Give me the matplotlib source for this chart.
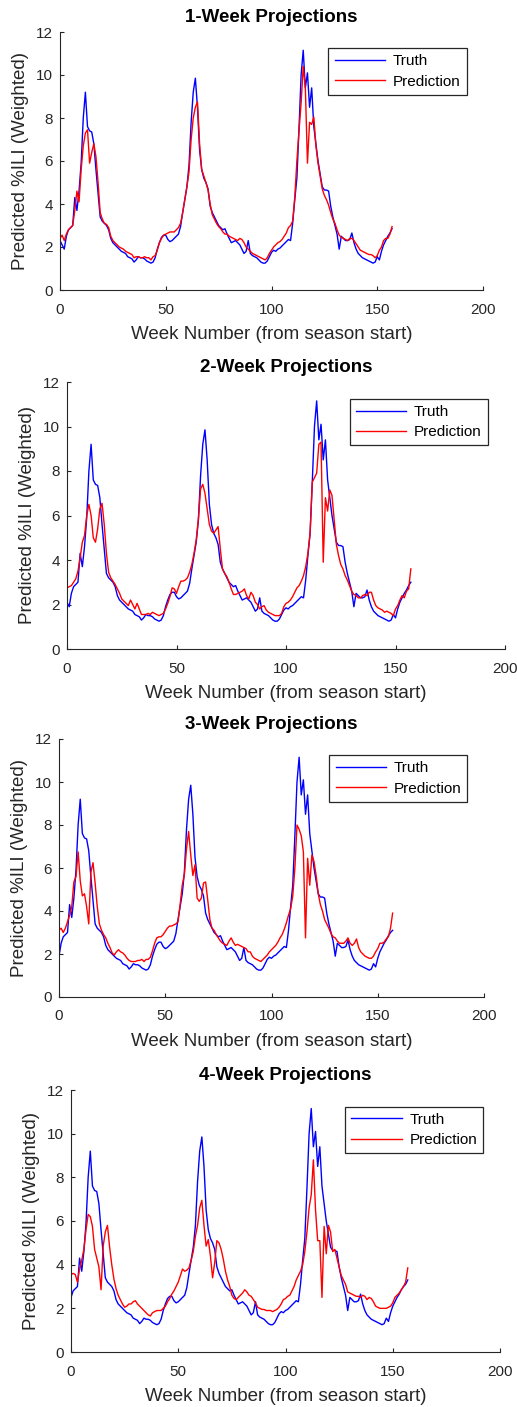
import matplotlib
matplotlib.use("Agg")
import matplotlib.pyplot as plt
import numpy as np

plt.rcParams["font.family"] = ["Liberation Sans", "DejaVu Sans"]

# observed weighted %ILI, aligned so that panel k shows truth_base[k-1 : k-1+158]
truth_base = [
    2.3, 2.1, 1.9, 2.5, 2.8, 2.9, 3.0, 4.3, 3.7, 4.6,
    5.9, 8.0, 9.2, 7.6, 7.4, 7.35, 6.8, 5.6, 4.5, 3.4,
    3.2, 3.1, 3.0, 2.8, 2.4, 2.2, 2.1, 2.0, 1.9, 1.8,
    1.75, 1.7, 1.55, 1.5, 1.45, 1.3, 1.4, 1.55, 1.5, 1.5,
    1.45, 1.35, 1.3, 1.25, 1.3, 1.5, 1.9, 2.2, 2.45, 2.55,
    2.55, 2.35, 2.25, 2.3, 2.4, 2.5, 2.6, 2.95, 3.6, 4.2,
    4.8, 5.8, 7.8, 9.2, 9.85, 8.5, 6.5, 5.6, 5.2, 5.0,
    4.7, 3.9, 3.6, 3.4, 3.2, 3.0, 2.9, 2.8, 2.85, 2.6,
    2.4, 2.2, 2.25, 2.3, 2.2, 2.1, 1.9, 1.7, 1.8, 2.3,
    1.7, 1.6, 1.55, 1.5, 1.4, 1.3, 1.25, 1.25, 1.35, 1.55,
    1.75, 1.85, 1.8, 1.9, 1.95, 2.05, 2.15, 2.25, 2.35, 2.3,
    3.1, 4.2, 5.2, 7.5, 10.0, 11.15, 9.4, 10.1, 8.5, 9.4,
    7.6, 6.8, 6.0, 5.4, 4.8, 4.65, 4.65, 4.6, 3.9, 3.4,
    3.0, 2.6, 1.9, 2.5, 2.4, 2.3, 2.3, 2.35, 2.65, 2.2,
    1.9, 1.7, 1.6, 1.5, 1.45, 1.4, 1.35, 1.3, 1.25, 1.3,
    1.55, 1.4, 1.8, 2.1, 2.3, 2.5, 2.65, 2.85, 3.0, 3.1,
    3.3,
]

pred_1wk = [
    2.4, 2.55, 2.3, 2.6, 2.8, 2.9, 3.0, 3.7, 4.6, 4.1,
    5.6, 6.7, 7.3, 7.45, 5.9, 6.4, 6.8, 6.2, 5.0, 3.6,
    3.3, 3.1, 3.05, 2.9, 2.5, 2.3, 2.2, 2.1, 2.0, 1.95,
    1.9, 1.8, 1.75, 1.7, 1.65, 1.5, 1.55, 1.55, 1.5, 1.5,
    1.55, 1.5, 1.5, 1.4, 1.55, 1.6, 1.85, 2.2, 2.4, 2.55,
    2.6, 2.65, 2.7, 2.7, 2.7, 2.8, 2.9, 3.1, 3.6, 4.2,
    4.8, 5.5, 7.0, 8.0, 8.5, 8.75, 6.8, 5.6, 5.3, 5.0,
    4.65, 4.0, 3.5, 3.3, 3.1, 2.95, 2.85, 2.7, 2.6, 2.6,
    2.5, 2.45, 2.4, 2.35, 2.3, 2.4, 2.35, 2.2, 2.0, 1.9,
    1.8, 1.7, 1.65, 1.6, 1.55, 1.5, 1.45, 1.4, 1.5, 1.7,
    1.85, 2.0, 2.1, 2.2, 2.25, 2.35, 2.5, 2.65, 2.9, 3.0,
    3.2, 4.3, 6.0, 7.4, 8.7, 10.4, 9.4, 5.9, 7.8, 7.7,
    8.05, 6.7, 5.9, 5.3, 4.7, 4.4, 4.2, 3.95, 3.6, 3.3,
    3.1, 2.8, 2.55, 2.45, 2.4, 2.35, 2.3, 2.4, 2.4, 2.3,
    2.15, 2.0, 1.85, 1.8, 1.75, 1.7, 1.65, 1.65, 1.6, 1.5,
    1.6, 1.85, 2.0, 2.3, 2.4, 2.4, 2.6, 2.95,
]

pred_2wk = [
    2.75, 2.8, 2.85, 3.0, 3.15, 3.5, 4.1, 4.8, 5.1, 6.0,
    6.5, 6.0, 5.0, 4.8, 5.4, 6.3, 6.55, 5.6, 4.3, 3.45,
    3.2, 3.05, 2.9, 2.7, 2.5, 2.25, 2.15, 2.05, 1.95, 2.2,
    2.0, 1.8, 2.05, 1.8, 1.55, 1.55, 1.55, 1.6, 1.55, 1.65,
    1.6, 1.55, 1.5, 1.55, 1.6, 1.8, 2.05, 2.35, 2.75, 2.7,
    2.5, 2.8, 3.05, 3.05, 3.1, 3.2, 3.45, 3.8, 4.3, 4.9,
    5.85, 7.2, 7.4, 7.0, 6.3, 5.6, 5.3, 5.2, 5.35, 5.5,
    4.5, 3.6, 3.4, 3.25, 3.0, 2.7, 2.45, 2.45, 2.5, 2.55,
    2.6, 2.7, 2.4, 2.25, 2.55, 2.4, 2.1, 2.0, 1.8, 1.9,
    1.95, 1.75, 1.65, 1.6, 1.55, 1.5, 1.5, 1.5, 1.6, 1.9,
    2.05, 2.1, 2.2, 2.35, 2.55, 2.75, 2.85, 3.05, 3.3, 3.7,
    4.3, 5.2, 7.5, 7.7, 7.9, 9.2, 9.3, 3.9, 6.8, 6.2,
    7.15, 6.9, 5.8, 4.7, 4.2, 3.8, 3.6, 3.3, 3.1, 2.85,
    2.6, 2.45, 2.4, 2.3, 2.3, 2.4, 2.45, 2.4, 2.55, 2.55,
    2.2, 1.95, 1.85, 1.8, 1.75, 1.65, 1.7, 1.65, 1.6, 1.5,
    1.8, 1.95, 2.2, 2.4, 2.3, 2.6, 2.7, 3.6,
]

pred_3wk = [
    3.1, 3.2, 3.0, 3.2, 3.5, 3.8, 4.2, 5.35, 5.6, 6.75,
    5.4, 4.7, 4.8, 4.2, 3.4, 5.8, 6.25, 5.3, 4.2, 3.4,
    3.1, 2.9, 2.75, 2.5, 2.3, 2.05, 1.95, 2.1, 2.2, 2.1,
    2.05, 1.95, 1.8, 1.7, 1.65, 1.65, 1.65, 1.7, 1.7, 1.75,
    1.65, 1.75, 1.75, 1.85, 2.15, 2.5, 2.75, 2.8, 2.8, 2.9,
    3.05, 3.2, 3.3, 3.3, 3.35, 3.4, 3.5, 4.3, 5.2, 5.7,
    6.9, 7.7, 6.6, 5.65, 6.15, 4.6, 4.45, 4.6, 5.3, 5.35,
    4.5, 3.6, 3.2, 3.1, 2.9, 2.75, 2.6, 2.5, 2.45, 2.4,
    2.6, 2.75, 2.55, 2.4, 2.45, 2.4, 2.35, 2.3, 2.25, 2.1,
    2.1, 1.9, 1.8, 1.75, 1.7, 1.65, 1.75, 1.85, 1.95, 2.1,
    2.2, 2.3, 2.4, 2.55, 2.75, 2.9, 3.15, 3.45, 3.8, 4.1,
    4.7, 6.0, 8.0, 7.8, 7.5, 6.75, 2.75, 6.45, 5.2, 6.6,
    6.3, 5.65, 4.8, 4.3, 4.0, 3.6, 3.4, 3.2, 2.95, 2.8,
    2.75, 2.6, 2.5, 2.5, 2.5, 2.6, 2.75, 2.5, 2.4, 2.5,
    2.7, 2.3, 2.1, 2.0, 1.9, 1.85, 1.8, 1.8, 1.9, 2.1,
    2.25, 2.5, 2.5, 2.55, 2.7, 2.8, 3.2, 3.9,
]

pred_4wk = [
    3.55, 3.6, 3.55, 3.2, 3.8, 4.2, 4.7, 5.6, 6.3, 6.2,
    5.75, 4.7, 4.3, 3.9, 2.85, 4.85, 5.5, 5.8, 4.8, 4.0,
    3.35, 2.9, 2.6, 2.4, 2.2, 2.05, 2.1, 2.2, 2.2, 2.3,
    2.35, 2.2, 2.1, 2.0, 1.9, 1.8, 1.7, 1.65, 1.8, 1.85,
    1.9, 1.9, 1.9, 2.0, 2.1, 2.3, 2.45, 2.65, 2.8, 3.0,
    3.2, 3.5, 3.8, 3.7, 3.75, 3.85, 4.2, 4.6, 5.3, 5.8,
    6.6, 6.95, 5.8, 4.85, 5.15, 4.4, 3.4, 4.1, 5.1, 5.0,
    4.7, 4.25, 3.7, 3.3, 3.0, 2.6, 2.45, 2.4, 2.5, 2.6,
    2.7, 2.85, 2.75, 2.6, 2.55, 2.4, 2.25, 2.05, 2.0, 1.95,
    1.95, 1.9, 1.9, 1.9, 1.85, 1.9, 1.95, 2.05, 2.2, 2.4,
    2.45, 2.55, 2.6, 2.8, 3.0, 3.3, 3.5, 3.7, 4.0, 4.6,
    5.5, 6.6, 7.2, 8.8, 6.5, 5.1, 5.1, 2.5, 5.75, 4.5,
    5.8, 5.5, 4.6, 4.7, 4.3, 3.9, 3.5, 3.3, 3.1, 2.75,
    2.7, 2.65, 2.6, 2.55, 2.55, 2.5, 2.6, 2.55, 2.4, 2.5,
    2.45, 2.3, 2.1, 2.05, 2.0, 2.0, 2.0, 2.0, 2.05, 2.1,
    2.25, 2.5, 2.6, 2.7, 2.85, 3.0, 3.2, 3.85,
]

titles = ["1-Week Projections", "2-Week Projections",
          "3-Week Projections", "4-Week Projections"]
preds = [pred_1wk, pred_2wk, pred_3wk, pred_4wk]

boxes = [(60, 483, 32, 290), (67, 505, 382, 649),
         (59, 484, 739, 997), (71, 500, 1090, 1352)]

W, H = 517, 1407
fig = plt.figure(figsize=(W / 100, H / 100), dpi=100)
axcol = "#262626"

for k in range(4):
    l, r, t, b = boxes[k]
    ax = fig.add_axes([l / W, (H - b) / H, (r - l) / W, (b - t) / H])
    pred = preds[k]
    weeks = np.arange(len(pred))
    truth = truth_base[k:k + len(pred)]
    ax.plot(weeks, truth, color="#0000ff", lw=1.0, label="Truth")
    ax.plot(weeks, pred, color="#ff0000", lw=1.0, label="Prediction")

    ax.set_xlim(0, 200)
    ax.set_ylim(0, 12)
    ax.set_xticks(np.arange(0, 201, 50))
    ax.set_yticks(np.arange(0, 13, 2))
    for s in ["top", "right"]:
        ax.spines[s].set_visible(False)
    for s in ["left", "bottom"]:
        ax.spines[s].set_color(axcol)
        ax.spines[s].set_linewidth(0.8)
    ax.tick_params(direction="in", length=3, width=0.8, colors=axcol,
                   labelsize=11, pad=5)
    ax.tick_params(axis="x", pad=9)

    ax.set_title(titles[k], fontsize=13.5, fontweight="bold", pad=7.5)
    ax.set_xlabel("Week Number (from season start)", fontsize=13.5,
                  color=axcol, labelpad=7)
    ax.set_ylabel("Predicted %ILI (Weighted)", fontsize=13.5,
                  color=axcol, labelpad=5)

    leg = ax.legend(loc="upper right", bbox_to_anchor=(0.961, 0.937),
                    borderaxespad=0, fontsize=11, handlelength=3.3,
                    handletextpad=0.5, labelspacing=0.42, borderpad=0.4,
                    fancybox=False, framealpha=1)
    leg.get_frame().set_edgecolor("#262626")
    leg.get_frame().set_linewidth(0.9)

fig.savefig("out.png", dpi=100)
